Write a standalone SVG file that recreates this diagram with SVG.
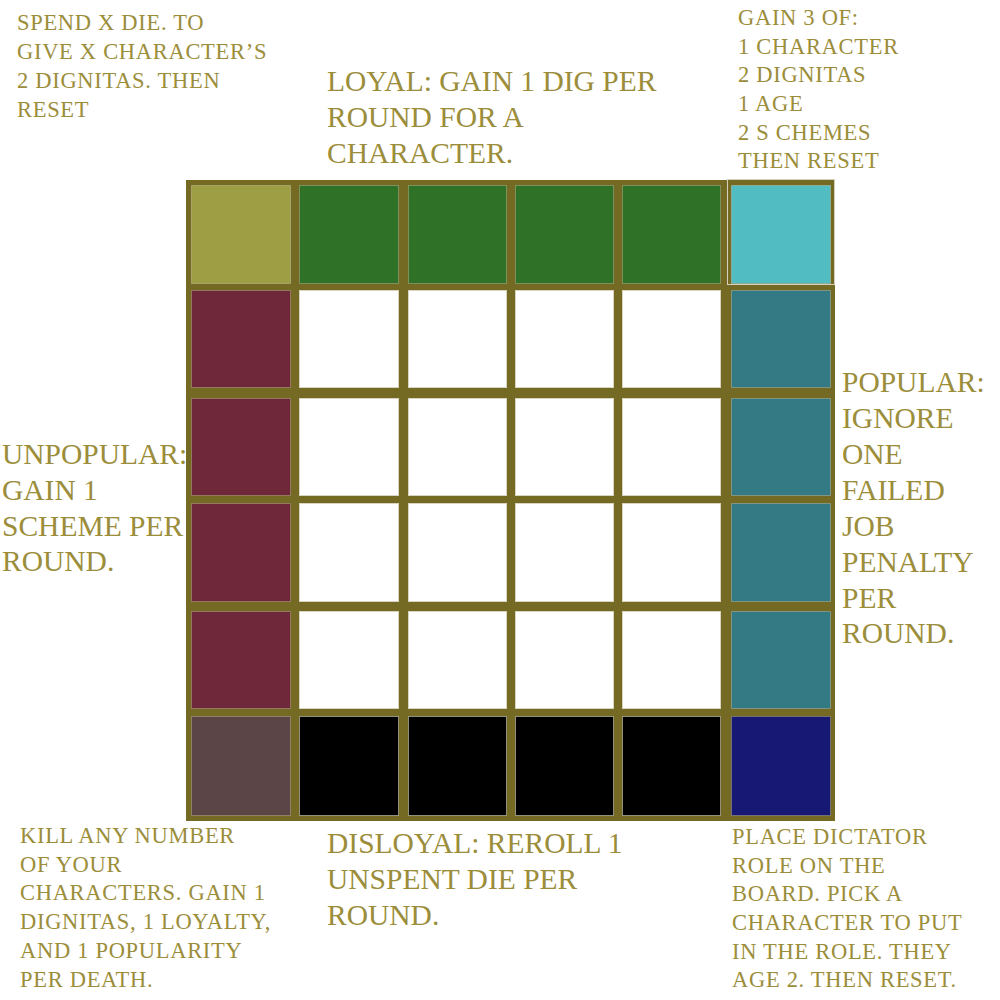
<svg xmlns="http://www.w3.org/2000/svg" width="1000" height="1000" viewBox="0 0 1000 1000">
<style>
.t{font-family:"Liberation Serif","Times New Roman",serif;fill:#9B8D3A;}
.s{font-size:22.5px;letter-spacing:0.7px;}
.l{font-size:29.5px;letter-spacing:0px;}
.c{stroke:#ffffff;stroke-opacity:0.25;stroke-width:1;}
.w{fill:#ffffff;stroke:#d8d4c0;stroke-width:1;}
</style>
<rect width="1000" height="1000" fill="#ffffff"/>
<g id="board">
<rect x="186" y="180" width="649" height="641" fill="#746A23"/>
<rect x="727.5" y="179.5" width="107" height="105" fill="none" stroke="#d4d0bc" stroke-width="1"/>
</g>
<g id="cells">
<!-- row 1 -->
<rect id="c11" class="c" x="191.5" y="185.5" width="99" height="98" fill="#9E9E45"/>
<rect id="c12" class="c" x="299.5" y="185.5" width="99" height="98" fill="#2F7127"/>
<rect id="c13" class="c" x="408.5" y="185.5" width="98" height="98" fill="#2F7127"/>
<rect id="c14" class="c" x="515.5" y="185.5" width="98" height="98" fill="#2F7127"/>
<rect id="c15" class="c" x="622.5" y="185.5" width="98" height="98" fill="#2F7127"/>
<rect id="c16" class="c" x="731.5" y="185.5" width="99" height="98" fill="#51BCC2"/>
<!-- row 2 -->
<rect id="c21" class="c" x="191.5" y="290.5" width="99" height="97" fill="#6E2839"/>
<rect id="c22" class="w" x="299.5" y="290.5" width="99" height="97"/>
<rect id="c23" class="w" x="408.5" y="290.5" width="98" height="97"/>
<rect id="c24" class="w" x="515.5" y="290.5" width="98" height="97"/>
<rect id="c25" class="w" x="622.5" y="290.5" width="98" height="97"/>
<rect id="c26" class="c" x="731.5" y="290.5" width="99" height="97" fill="#337A85"/>
<!-- row 3 -->
<rect id="c31" class="c" x="191.5" y="398.5" width="99" height="97" fill="#6E2839"/>
<rect id="c32" class="w" x="299.5" y="398.5" width="99" height="97"/>
<rect id="c33" class="w" x="408.5" y="398.5" width="98" height="97"/>
<rect id="c34" class="w" x="515.5" y="398.5" width="98" height="97"/>
<rect id="c35" class="w" x="622.5" y="398.5" width="98" height="97"/>
<rect id="c36" class="c" x="731.5" y="398.5" width="99" height="97" fill="#337A85"/>
<!-- row 4 -->
<rect id="c41" class="c" x="191.5" y="503.5" width="99" height="98" fill="#6E2839"/>
<rect id="c42" class="w" x="299.5" y="503.5" width="99" height="98"/>
<rect id="c43" class="w" x="408.5" y="503.5" width="98" height="98"/>
<rect id="c44" class="w" x="515.5" y="503.5" width="98" height="98"/>
<rect id="c45" class="w" x="622.5" y="503.5" width="98" height="98"/>
<rect id="c46" class="c" x="731.5" y="503.5" width="99" height="98" fill="#337A85"/>
<!-- row 5 -->
<rect id="c51" class="c" x="191.5" y="611.5" width="99" height="97" fill="#6E2839"/>
<rect id="c52" class="w" x="299.5" y="611.5" width="99" height="97"/>
<rect id="c53" class="w" x="408.5" y="611.5" width="98" height="97"/>
<rect id="c54" class="w" x="515.5" y="611.5" width="98" height="97"/>
<rect id="c55" class="w" x="622.5" y="611.5" width="98" height="97"/>
<rect id="c56" class="c" x="731.5" y="611.5" width="99" height="97" fill="#337A85"/>
<!-- row 6 -->
<rect id="c61" class="c" x="191.5" y="716.5" width="99" height="99" fill="#5C4547"/>
<rect id="c62" class="c" x="299.5" y="716.5" width="99" height="99" fill="#000000" style="stroke-opacity:0.45"/>
<rect id="c63" class="c" x="408.5" y="716.5" width="98" height="99" fill="#000000" style="stroke-opacity:0.45"/>
<rect id="c64" class="c" x="515.5" y="716.5" width="98" height="99" fill="#000000" style="stroke-opacity:0.45"/>
<rect id="c65" class="c" x="622.5" y="716.5" width="98" height="99" fill="#000000" style="stroke-opacity:0.45"/>
<rect id="c66" class="c" x="731.5" y="716.5" width="99" height="99" fill="#171873"/>
</g>
<g id="text-topleft" class="t s">
<text x="17" y="30">SPEND X DIE. TO</text>
<text x="17" y="59">GIVE X CHARACTER’S</text>
<text x="17" y="88">2 DIGNITAS. THEN</text>
<text x="17" y="117">RESET</text>
</g>
<g id="text-loyal" class="t l">
<text x="327" y="91">LOYAL: GAIN 1 DIG PER</text>
<text x="327" y="127">ROUND FOR A</text>
<text x="327" y="163">CHARACTER.</text>
</g>
<g id="text-topright" class="t s">
<text x="738" y="25">GAIN 3 OF:</text>
<text x="738" y="53.5">1 CHARACTER</text>
<text x="738" y="82">2 DIGNITAS</text>
<text x="738" y="111">1 AGE</text>
<text x="738" y="139.5">2 S CHEMES</text>
<text x="738" y="168">THEN RESET</text>
</g>
<g id="text-unpopular" class="t l">
<text x="2" y="464">UNPOPULAR:</text>
<text x="2" y="500">GAIN 1</text>
<text x="2" y="536">SCHEME PER</text>
<text x="2" y="571">ROUND.</text>
</g>
<g id="text-popular" class="t l">
<text x="842" y="392">POPULAR:</text>
<text x="842" y="428">IGNORE</text>
<text x="842" y="464">ONE</text>
<text x="842" y="500">FAILED</text>
<text x="842" y="536">JOB</text>
<text x="842" y="572">PENALTY</text>
<text x="842" y="608">PER</text>
<text x="842" y="643">ROUND.</text>
</g>
<g id="text-disloyal" class="t l">
<text x="327" y="853">DISLOYAL: REROLL 1</text>
<text x="327" y="889">UNSPENT DIE PER</text>
<text x="327" y="925">ROUND.</text>
</g>
<g id="text-bottomleft" class="t s">
<text x="20" y="843">KILL ANY NUMBER</text>
<text x="20" y="872">OF YOUR</text>
<text x="20" y="900">CHARACTERS. GAIN 1</text>
<text x="20" y="929">DIGNITAS, 1 LOYALTY,</text>
<text x="20" y="958">AND 1 POPULARITY</text>
<text x="20" y="987">PER DEATH.</text>
</g>
<g id="text-bottomright" class="t s">
<text x="732" y="844">PLACE DICTATOR</text>
<text x="732" y="873">ROLE ON THE</text>
<text x="732" y="901">BOARD. PICK A</text>
<text x="732" y="930">CHARACTER TO PUT</text>
<text x="732" y="959">IN THE ROLE. THEY</text>
<text x="732" y="987">AGE 2. THEN RESET.</text>
</g>
</svg>
